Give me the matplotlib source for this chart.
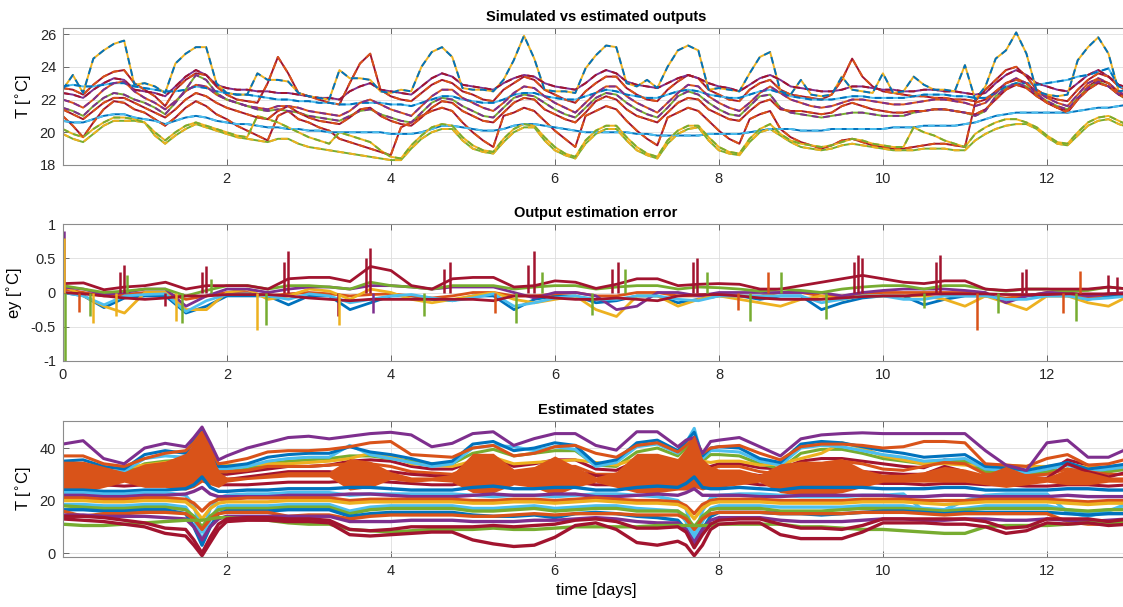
"""Observer results: simulated vs estimated outputs, output error, estimated states."""

import matplotlib

matplotlib.use("Agg")

import matplotlib.pyplot as plt
import numpy as np
from matplotlib.ticker import FormatStrFormatter

plt.rcParams["font.family"] = ["Liberation Sans", "DejaVu Sans"]
plt.rcParams["axes.unicode_minus"] = False

# MATLAB default colour order
COL = {
    "blue": "#0072BD", "orange": "#D95319", "yellow": "#EDB120", "purple": "#7E2F8E",
    "green": "#77AC30", "lblue": "#4DBEEE", "dred": "#A2142F",
}

# ---------------------------------------------------------------- top panel
# sampled every 3 h (0.125 day), t = 0 ... 13 days
TIME_TOP = np.arange(0, 13.0625, 0.125)

Y_HIGH = [
    22.6, 23.5, 22.4, 24.5, 25.0, 25.4, 25.6, 22.9,
    23.0, 22.8, 22.4, 24.2, 24.8, 25.2, 25.2, 23.0,
    22.4, 22.3, 22.3, 23.6, 23.2, 23.2, 23.1, 22.4,
    22.2, 22.1, 22.0, 23.8, 23.3, 23.3, 23.2, 22.5,
    22.4, 22.6, 22.5, 24.0, 24.9, 25.2, 24.6, 22.7,
    22.6, 22.6, 22.5, 23.2, 24.4, 25.9, 24.5, 22.6,
    22.5, 22.5, 22.4, 23.9, 24.7, 25.3, 25.2, 23.0,
    22.8, 23.2, 22.7, 24.0, 25.0, 25.3, 25.0, 22.6,
    22.7, 22.6, 22.5, 23.6, 24.6, 24.9, 22.5, 22.3,
    23.2, 22.3, 22.2, 22.3, 23.4, 22.6, 22.5, 22.4,
    23.6, 22.4, 22.5, 23.4, 22.9, 22.6, 22.6, 22.5,
    24.1, 22.0, 22.8, 24.5, 25.0, 26.1, 24.8, 22.5,
    22.3, 22.2, 22.3, 24.4, 25.2, 25.8, 24.8, 22.5,
    22.6]
Y_REDPEAK = [
    22.7, 22.6, 22.3, 22.9, 23.4, 23.7, 23.8, 23.0,
    22.6, 22.2, 21.6, 22.6, 23.2, 23.6, 23.5, 22.8,
    22.3, 22.0, 21.9, 21.8, 23.0, 24.6, 23.6, 22.4,
    22.2, 22.0, 21.8, 21.7, 23.0, 24.2, 24.8, 22.6,
    22.2, 22.0, 21.9, 22.4, 22.9, 23.2, 23.0, 22.5,
    22.3, 22.0, 21.9, 22.6, 23.0, 23.4, 23.2, 22.6,
    22.3, 22.0, 21.8, 22.5, 23.0, 23.4, 23.4, 22.7,
    22.3, 22.0, 21.9, 22.6, 23.1, 23.5, 23.3, 22.6,
    22.3, 22.0, 21.9, 22.6, 23.0, 23.2, 22.6, 22.3,
    22.2, 22.1, 22.0, 22.3, 23.2, 24.5, 23.4, 22.8,
    22.5, 22.4, 22.3, 22.2, 22.2, 22.1, 22.1, 22.0,
    22.0, 21.9, 22.6, 23.2, 23.8, 24.0, 23.4, 22.6,
    22.2, 22.0, 21.9, 22.6, 23.2, 23.6, 23.4, 22.8,
    22.5]
Y_PURPLE = [
    22.4, 22.3, 22.1, 22.6, 23.0, 23.3, 23.2, 22.6,
    22.5, 22.4, 22.2, 22.8, 23.4, 23.8, 23.5, 22.9,
    22.7, 22.6, 22.6, 22.5, 22.5, 22.4, 22.4, 22.3,
    22.2, 22.1, 22.1, 22.0, 22.5, 22.8, 23.0, 22.6,
    22.5, 22.4, 22.3, 22.8, 23.3, 23.6, 23.4, 22.9,
    22.8, 22.7, 22.6, 23.0, 23.3, 23.5, 23.4, 23.0,
    22.8, 22.7, 22.6, 23.0, 23.5, 23.8, 23.6, 23.1,
    22.9, 22.8, 22.7, 23.0, 23.3, 23.5, 23.3, 23.0,
    22.8, 22.7, 22.5, 22.9, 23.3, 23.5, 23.2, 22.8,
    22.7, 22.6, 22.5, 22.5, 22.6, 22.8, 22.8, 22.7,
    22.6, 22.6, 22.5, 22.5, 22.6, 22.6, 22.5, 22.5,
    22.4, 22.3, 22.4, 23.0, 23.5, 23.8, 23.5, 23.0,
    22.8, 22.6, 22.5, 23.0, 23.5, 23.8, 23.4, 22.9,
    22.7]
Y_LBLUE = [
    22.8, 22.9, 22.8, 22.8, 22.9, 23.0, 23.0, 22.8,
    22.7, 22.6, 22.5, 22.5, 22.6, 22.8, 22.7, 22.5,
    22.4, 22.3, 22.3, 22.2, 22.1, 22.0, 22.0, 21.9,
    21.9, 21.8, 21.8, 21.7, 21.7, 21.8, 21.8, 21.8,
    21.7, 21.7, 21.6, 21.8, 22.0, 22.2, 22.2, 22.0,
    21.9, 21.8, 21.8, 22.0, 22.3, 22.4, 22.4, 22.2,
    22.1, 22.0, 22.0, 22.2, 22.4, 22.6, 22.5, 22.3,
    22.2, 22.1, 22.1, 22.3, 22.5, 22.6, 22.5, 22.3,
    22.2, 22.1, 22.1, 22.3, 22.5, 22.6, 22.4, 22.2,
    22.1, 22.0, 22.0, 22.0, 22.1, 22.2, 22.2, 22.1,
    22.1, 22.1, 22.1, 22.2, 22.3, 22.3, 22.3, 22.2,
    22.2, 22.1, 22.1, 22.4, 22.8, 23.0, 23.0, 22.9,
    23.0, 23.1, 23.2, 23.4, 23.5, 23.7, 23.9, 22.8,
    22.6]
Y_ORANGE = [
    22.0, 21.8, 21.5, 22.0, 22.6, 23.0, 23.1, 22.5,
    22.1, 21.8, 21.4, 21.9, 22.5, 22.9, 22.8, 22.3,
    22.0, 21.8, 21.6, 21.5, 21.4, 21.6, 21.6, 21.5,
    21.3, 21.2, 21.1, 21.0, 21.3, 21.8, 22.0, 21.7,
    21.4, 21.2, 21.0, 21.6, 22.2, 22.6, 22.6, 22.1,
    21.8, 21.5, 21.3, 21.8, 22.4, 22.8, 22.7, 22.2,
    21.8, 21.5, 21.2, 21.8, 22.4, 22.8, 22.8, 22.2,
    21.8, 21.5, 21.2, 21.8, 22.4, 22.9, 22.8, 22.2,
    21.8, 21.5, 21.3, 21.8, 22.4, 22.8, 22.4, 22.0,
    21.8, 21.6, 21.5, 21.6, 21.8, 22.0, 22.0, 21.9,
    21.8, 21.7, 21.7, 21.8, 21.9, 22.0, 22.0, 21.9,
    21.8, 21.6, 21.8, 22.4, 23.0, 23.3, 23.0, 22.5,
    22.1, 21.8, 21.6, 22.3, 23.0, 23.3, 23.0, 22.5,
    22.1]
Y_REDLOW = [
    21.0, 20.4, 19.7, 20.6, 21.4, 21.9, 21.8, 21.4,
    21.2, 20.8, 20.4, 20.9, 21.5, 21.9, 21.6, 21.1,
    20.8, 20.4, 20.1, 19.8, 19.5, 21.0, 21.3, 20.8,
    20.6, 20.3, 20.1, 19.6, 19.4, 19.2, 19.0, 18.8,
    18.6, 20.3, 20.6, 21.0, 21.3, 21.5, 21.3, 20.6,
    20.0, 19.5, 19.1, 21.0, 21.2, 21.5, 21.3, 20.7,
    20.1, 19.6, 19.1, 21.0, 21.3, 21.6, 21.4, 20.7,
    20.1, 19.6, 19.2, 20.9, 21.2, 21.5, 21.3, 20.7,
    20.1, 19.6, 19.3, 20.8, 21.1, 21.3, 20.2, 19.7,
    19.4, 19.2, 19.0, 19.2, 19.5, 19.6, 19.4, 19.2,
    19.1, 19.0, 19.0, 19.1, 19.2, 19.3, 19.3, 19.2,
    19.1, 21.8, 22.0, 22.5, 23.0, 23.2, 23.0, 22.4,
    21.8, 21.5, 21.2, 22.0, 22.8, 23.2, 23.0, 22.4,
    22.0]
Y_BLUE = [
    20.7, 20.6, 20.6, 20.8, 21.0, 21.1, 21.1, 20.9,
    20.8, 20.7, 20.5, 20.7, 20.9, 21.0, 20.9, 20.7,
    20.6, 20.5, 20.5, 20.4, 20.3, 20.3, 20.2, 20.2,
    20.1, 20.1, 20.0, 20.0, 20.0, 20.0, 20.0, 20.0,
    19.9, 19.9, 19.9, 20.0, 20.2, 20.4, 20.4, 20.3,
    20.2, 20.1, 20.1, 20.2, 20.4, 20.5, 20.5, 20.4,
    20.3, 20.2, 20.1, 20.0, 20.0, 20.0, 20.0, 20.0,
    19.9, 19.9, 19.8, 19.8, 19.8, 19.8, 19.8, 19.9,
    19.9, 19.9, 19.9, 20.0, 20.1, 20.2, 20.2, 20.2,
    20.1, 20.1, 20.1, 20.2, 20.2, 20.2, 20.2, 20.2,
    20.2, 20.3, 20.3, 20.3, 20.4, 20.4, 20.4, 20.4,
    20.5, 20.6, 20.8, 21.0, 21.1, 21.2, 21.2, 21.2,
    21.2, 21.2, 21.2, 21.3, 21.4, 21.5, 21.5, 21.6,
    21.7]
Y_LOWEST = [
    19.9, 19.6, 19.4, 19.9, 20.4, 20.7, 20.7, 20.7,
    20.6, 19.8, 19.3, 19.8, 20.2, 20.5, 20.3, 20.1,
    19.9, 19.7, 19.6, 19.5, 19.4, 19.6, 19.6, 19.3,
    19.1, 19.0, 18.9, 18.8, 18.7, 18.6, 18.5, 18.4,
    18.3, 18.3, 19.0, 19.6, 20.0, 20.2, 20.2, 19.5,
    19.0, 18.8, 18.7, 19.4, 20.0, 20.3, 20.3, 19.5,
    18.9, 18.6, 18.4, 19.3, 19.9, 20.2, 20.2, 19.5,
    18.9, 18.6, 18.4, 19.3, 19.9, 20.2, 20.3, 19.5,
    18.9, 18.7, 18.6, 19.4, 20.0, 20.2, 19.8, 19.4,
    19.1, 19.0, 18.9, 19.0, 19.2, 19.3, 19.2, 19.1,
    19.0, 18.9, 18.9, 18.9, 19.0, 19.0, 19.0, 18.9,
    18.9, 19.5, 19.9, 20.2, 20.4, 20.5, 20.5, 20.2,
    19.7, 19.3, 19.2, 19.8, 20.4, 20.7, 20.8, 20.5,
    20.3]
Y_YELLOW = [
    20.2, 19.9, 19.7, 20.2, 20.6, 20.9, 20.9, 20.8,
    20.6, 20.0, 19.5, 20.0, 20.4, 20.6, 20.4, 20.2,
    20.0, 19.8, 19.7, 21.0, 20.8, 20.6, 20.3, 20.0,
    19.7, 19.5, 19.3, 20.0, 19.8, 19.6, 19.4, 18.9,
    18.5, 18.4, 19.2, 19.8, 20.3, 20.5, 20.4, 19.7,
    19.2, 18.9, 18.8, 19.6, 20.2, 20.5, 20.4, 19.7,
    19.1, 18.7, 18.5, 19.5, 20.1, 20.4, 20.4, 19.7,
    19.1, 18.7, 18.5, 19.5, 20.1, 20.4, 20.4, 19.7,
    19.1, 18.8, 18.7, 19.6, 20.2, 20.5, 19.9, 19.5,
    19.3, 19.2, 19.1, 19.2, 19.4, 19.6, 19.5, 19.3,
    19.2, 19.1, 19.1, 20.3, 20.0, 19.8, 19.5, 19.3,
    19.1, 19.9, 20.3, 20.6, 20.8, 20.8, 20.6, 20.3,
    19.8, 19.4, 19.3, 20.0, 20.6, 20.9, 21.0, 20.7,
    20.4]
Y_GREEN = [
    21.5, 21.3, 21.0, 21.6, 22.1, 22.4, 22.3, 22.0,
    21.8, 21.5, 21.1, 21.8, 22.6, 23.5, 23.2, 22.4,
    22.0, 21.8, 21.6, 21.4, 21.3, 21.4, 21.3, 21.2,
    21.0, 20.9, 20.8, 20.7, 21.0, 21.3, 21.4, 21.1,
    20.9, 20.7, 20.6, 21.2, 21.8, 22.1, 22.0, 21.6,
    21.3, 21.0, 20.9, 21.5, 22.1, 22.3, 22.2, 21.8,
    21.4, 21.1, 20.9, 21.5, 22.1, 22.4, 22.3, 21.8,
    21.4, 21.1, 20.9, 21.5, 22.2, 22.5, 22.3, 21.8,
    21.4, 21.1, 21.0, 21.6, 22.2, 22.3, 21.5, 21.2,
    21.1, 21.0, 20.9, 21.0, 21.1, 21.2, 21.2, 21.1,
    21.0, 21.0, 21.0, 21.2, 21.3, 21.4, 21.4, 21.3,
    21.2, 21.0, 21.3, 22.2, 22.7, 23.0, 22.8, 22.3,
    21.9, 21.6, 21.4, 22.1, 22.7, 23.1, 22.8, 22.3,
    21.9]
Y_RED = [
    21.4, 21.1, 20.8, 21.3, 21.8, 22.1, 22.1, 21.8,
    21.5, 21.2, 20.9, 21.4, 22.0, 22.4, 22.2, 21.8,
    21.5, 21.3, 21.1, 20.9, 20.8, 21.3, 21.6, 21.2,
    20.9, 20.7, 20.6, 20.5, 20.9, 21.4, 21.5, 21.0,
    20.7, 20.5, 20.4, 20.9, 21.5, 21.9, 21.8, 21.3,
    21.0, 20.7, 20.6, 21.2, 21.8, 22.1, 22.0, 21.4,
    21.1, 20.8, 20.6, 21.2, 21.9, 22.2, 22.0, 21.4,
    21.0, 20.8, 20.6, 21.2, 21.8, 22.1, 22.0, 21.4,
    21.1, 20.8, 20.7, 21.3, 21.8, 22.0, 21.4, 21.3,
    21.3, 21.2, 21.1, 21.2, 21.6, 21.8, 21.6, 21.4,
    21.3, 21.2, 21.2, 21.3, 21.3, 21.4, 21.4, 21.3,
    21.2, 21.1, 21.4, 22.0, 22.6, 22.9, 22.7, 22.2,
    21.8, 21.5, 21.3, 22.0, 22.6, 23.0, 22.8, 22.3,
    22.0]

# (series, simulated colour, estimate colour)
TOP_SERIES = [
    (Y_REDPEAK, "dred", "orange"), (Y_PURPLE, "purple", "dred"),
    (Y_LBLUE, "lblue", "blue"), (Y_ORANGE, "orange", "purple"),
    (Y_REDLOW, "dred", "orange"), (Y_BLUE, "blue", "lblue"),
    (Y_LOWEST, "green", "yellow"), (Y_YELLOW, "yellow", "green"),
    (Y_GREEN, "green", "purple"), (Y_RED, "dred", "orange"),
    (Y_HIGH, "yellow", "blue"),
]

# ---------------------------------------------------------------- middle panel
TIME_MID = np.arange(0, 13.125, 0.25)

E_BLUE = [0.0, -0.05, -0.22, -0.08, -0.05, -0.05, -0.3, -0.2, -0.05, -0.05, -0.05, -0.18,
          -0.05, -0.05, -0.25, -0.15, -0.05, -0.05, -0.1, -0.12, -0.05, -0.05, -0.25, -0.1,
          -0.05, -0.05, -0.15, -0.12, -0.05, -0.05, -0.15, -0.1, -0.05, -0.05, -0.1, -0.05,
          -0.05, -0.25, -0.15, -0.08, -0.05, -0.05, -0.18, -0.1, -0.05, -0.05, -0.1, -0.05,
          -0.05, -0.05, -0.1, -0.05, -0.03]
E_ORANGE = [0.05, 0.0, -0.05, -0.03, 0.0, 0.0, -0.1, -0.05, 0.0, 0.0, -0.05, -0.02,
            0.0, -0.02, -0.05, -0.03, -0.02, -0.05, -0.08, -0.05, 0.0, 0.0, -0.05, -0.05,
            -0.02, 0.0, -0.05, -0.05, 0.0, 0.0, -0.05, -0.05, -0.03, -0.05, -0.05, 0.0,
            0.0, -0.05, -0.05, -0.02, 0.0, 0.0, 0.0, 0.0, 0.0, -0.05, -0.08, -0.05,
            0.0, -0.03, -0.08, -0.02, 0.0]
E_YELLOW = [0.1, -0.05, -0.2, -0.3, 0.0, 0.0, -0.25, -0.25, 0.0, 0.05, -0.1, -0.05,
            0.05, 0.02, -0.1, 0.05, 0.0, -0.1, -0.15, -0.1, -0.05, 0.0, -0.1, -0.15,
            -0.1, -0.05, -0.25, -0.35, -0.05, -0.05, -0.2, -0.1, -0.05, -0.1, -0.15, -0.2,
            -0.1, -0.05, -0.1, -0.05, -0.05, -0.05, -0.05, -0.1, -0.2, -0.05, -0.15, -0.25,
            -0.05, -0.05, -0.15, -0.2, -0.05]
E_PURPLE = [0.08, 0.05, -0.03, 0.0, 0.05, 0.05, -0.2, -0.05, 0.05, 0.05, 0.0, 0.05,
            0.08, 0.08, 0.05, 0.1, 0.1, 0.08, 0.05, 0.08, 0.08, 0.08, 0.0, -0.08,
            0.0, 0.0, -0.05, -0.25, -0.2, 0.0, 0.0, -0.05, 0.0, 0.0, 0.0, 0.0,
            0.0, 0.0, -0.05, 0.0, 0.03, 0.05, 0.05, 0.05, 0.03, 0.0, -0.15, -0.05,
            0.0, 0.0, -0.05, -0.02, 0.0]
E_GREEN = [0.1, 0.05, 0.0, 0.02, 0.05, 0.05, -0.05, 0.03, 0.1, 0.1, 0.05, 0.1,
           0.1, 0.08, 0.05, 0.15, 0.1, 0.08, 0.05, 0.1, 0.1, 0.1, 0.05, 0.08,
           0.1, 0.1, 0.05, 0.08, 0.1, 0.1, 0.05, 0.08, 0.07, 0.05, 0.02, 0.05,
           0.03, 0.0, 0.05, 0.08, 0.1, 0.1, 0.05, 0.1, 0.1, 0.05, 0.02, 0.05,
           0.05, 0.02, 0.03, 0.08, 0.05]
E_LBLUE = [0.0, -0.05, -0.18, -0.05, -0.03, -0.02, -0.28, -0.12, -0.03, -0.02, -0.05, -0.1,
           -0.02, -0.05, -0.15, -0.1, -0.05, -0.03, -0.08, -0.12, -0.08, -0.02, -0.2, -0.15,
           -0.08, -0.05, -0.1, -0.1, -0.05, -0.05, -0.1, -0.12, -0.05, -0.05, -0.05, -0.05,
           -0.05, -0.15, -0.1, -0.05, -0.05, -0.1, -0.1, -0.05, -0.05, -0.05, -0.1, -0.1,
           -0.05, -0.05, -0.1, -0.08, -0.05]
E_DRED_LO = [0.0, -0.02, -0.05, -0.08, -0.1, -0.08, -0.05, -0.05, -0.03, -0.03, -0.03, -0.05,
             -0.08, -0.1, -0.12, -0.1, -0.1, -0.1, -0.1, -0.1, -0.1, -0.12, -0.05, -0.05,
             -0.08, -0.1, -0.1, -0.08, -0.1, -0.12, -0.05, -0.03, -0.03, -0.05, -0.08, -0.1,
             -0.1, -0.1, -0.08, -0.06, -0.05, -0.05, -0.03, -0.02, -0.02, -0.02, -0.03, -0.03,
             -0.03, -0.02, -0.02, -0.02, -0.02]
E_DRED_HI = [0.13, 0.14, 0.04, 0.08, 0.1, 0.15, 0.05, 0.1, 0.1, 0.1, 0.05, 0.2,
             0.22, 0.22, 0.16, 0.38, 0.32, 0.1, 0.05, 0.2, 0.22, 0.22, 0.08, 0.1,
             0.17, 0.15, 0.06, 0.12, 0.2, 0.2, 0.1, 0.12, 0.13, 0.12, 0.05, 0.05,
             0.1, 0.15, 0.2, 0.25, 0.2, 0.15, 0.13, 0.17, 0.17, 0.05, 0.03, 0.05,
             0.05, 0.05, 0.05, 0.08, 0.05]
MID_SERIES = [
    (E_BLUE, "blue"), (E_ORANGE, "orange"), (E_YELLOW, "yellow"), (E_PURPLE, "purple"),
    (E_GREEN, "green"), (E_LBLUE, "lblue"), (E_DRED_LO, "dred"), (E_DRED_HI, "dred"),
]

# short spikes in the error traces
SPIKE_T = [0.01, 0.015, 0.02, 0.2, 0.33, 0.37, 0.65, 0.7, 0.75, 0.78, 1.24, 1.38, 1.45,
           1.7, 1.75, 1.8, 2.37, 2.47, 2.7, 2.75, 3.35, 3.36, 3.7, 3.75, 3.78, 4.4,
           4.65, 4.72, 5.27, 5.53, 5.67, 5.74, 5.84, 6.45, 6.7, 6.77, 6.85, 7.68, 7.73,
           7.85, 8.23, 8.38, 8.6, 8.76, 9.3, 9.65, 9.7, 9.75, 10.5, 10.65, 10.7,
           11.15, 11.4, 11.7, 11.75, 12.2, 12.35, 12.4, 12.75, 12.85]
SPIKE_V = [0.9, 0.8, -1.0, -0.28, -0.35, -0.45, -0.35, 0.3, 0.4, 0.25, -0.2, -0.42, -0.45,
           0.3, 0.38, 0.2, -0.55, -0.47, 0.45, 0.6, -0.35, -0.47, 0.5, 0.65, -0.3, -0.35,
           0.35, 0.45, -0.3, -0.45, 0.4, 0.6, 0.3, -0.33, 0.35, 0.45, 0.35, 0.45, 0.5,
           0.3, -0.25, -0.42, 0.3, 0.3, -0.38, 0.45, 0.55, 0.5, -0.22, 0.45, 0.55,
           -0.55, -0.3, 0.3, 0.35, -0.3, -0.42, 0.32, 0.25, 0.22]
SPIKE_C = ["purple", "yellow", "green", "orange", "green", "yellow", "yellow", "dred", "dred",
           "green", "dred", "yellow", "green", "dred", "dred", "green", "yellow", "green",
           "dred", "dred", "dred", "yellow", "dred", "dred", "purple", "green", "dred",
           "dred", "orange", "green", "dred", "dred", "green", "green", "dred", "dred",
           "green", "dred", "dred", "green", "orange", "green", "orange", "green", "green",
           "dred", "dred", "dred", "green", "dred", "dred", "orange", "green", "dred",
           "dred", "orange", "green", "orange", "dred", "dred"]

# ---------------------------------------------------------------- bottom panel
TIME_BOT = [0, 0.25, 0.5, 0.75, 1.0, 1.25, 1.5,
            1.6, 1.7, 1.8, 1.9,
            2.0, 2.25, 2.5, 2.75, 3.0, 3.25, 3.5, 3.75,
            4.0, 4.25, 4.5, 4.75, 5.0, 5.25, 5.5, 5.75,
            6.0, 6.25, 6.5, 6.75, 7.0, 7.25, 7.5,
            7.6, 7.7, 7.8, 7.9,
            8.0, 8.25, 8.5, 8.75, 9.0, 9.25, 9.5, 9.75,
            10.0, 10.25, 10.5, 10.75, 11.0, 11.25, 11.5, 11.75,
            12.0, 12.25, 12.5, 12.75, 13.0]

X_PURPLE_TOP = [41.5, 42.8, 36.0, 34.0, 40.0, 41.8, 40.5,
                44.0, 48.0, 42.0, 35.5,
                37.0, 40.0, 42.0, 44.0, 44.5, 43.5, 44.5, 45.5,
                46.0, 45.0, 40.5, 41.8, 45.5, 46.2, 41.0, 43.6,
                45.5, 45.5, 41.0, 39.2, 46.2, 46.2, 40.5,
                43.0, 44.0, 38.0, 42.5,
                43.0, 44.0, 40.5, 37.0, 43.5, 45.0, 45.5, 45.8,
                45.5, 45.5, 45.5, 45.5, 45.5, 39.0, 33.5, 31.5,
                42.0, 43.0, 36.5, 36.5, 40.0]
X_ORANGE_TOP = [37.0, 37.0, 34.0, 33.0, 36.0, 38.0, 39.0,
                42.0, 46.0, 40.0, 34.0,
                34.5, 36.0, 38.5, 39.0, 39.0, 39.5, 40.5, 42.0,
                42.5, 37.5, 37.0, 36.5, 40.0, 41.0, 37.0, 38.0,
                40.5, 41.0, 38.0, 36.5, 41.0, 42.0, 38.5,
                41.0, 44.0, 38.0, 40.0,
                40.5, 41.0, 38.0, 35.5, 40.5, 41.5, 41.5, 41.0,
                40.0, 40.5, 42.5, 42.5, 42.0, 34.0, 33.5, 33.0,
                36.0, 37.5, 33.5, 34.0, 36.0]
X_BLUE_TOP = [35.0, 35.5, 33.0, 32.0, 37.5, 39.0, 38.0,
              43.0, 47.0, 39.0, 33.0,
              33.0, 34.0, 36.5, 37.5, 38.0, 38.0, 40.5, 38.5,
              37.5, 36.0, 34.0, 35.0, 41.5, 42.5, 39.0, 40.0,
              42.0, 41.0, 34.0, 35.5, 42.0, 43.0, 39.0,
              42.5, 46.0, 37.0, 40.0,
              40.5, 40.0, 36.0, 34.5, 41.5, 42.5, 42.0, 40.5,
              39.0, 38.0, 36.5, 37.0, 37.5, 33.0, 32.5, 31.5,
              33.0, 34.5, 32.0, 33.0, 34.0]
X_LBLUE_TOP = [33.0, 33.5, 31.5, 31.0, 36.0, 37.0, 36.5,
               42.0, 46.5, 38.0, 32.0,
               32.0, 33.0, 35.0, 36.0, 36.5, 36.5, 41.0, 37.5,
               36.0, 34.5, 33.0, 34.0, 40.0, 41.0, 40.5, 39.0,
               40.5, 39.5, 33.0, 34.5, 40.5, 41.5, 38.0,
               42.0, 47.5, 36.0, 39.0,
               39.0, 38.5, 35.0, 33.5, 40.0, 41.0, 40.5, 39.0,
               37.5, 36.5, 35.0, 35.5, 36.0, 32.0, 31.5, 30.5,
               32.0, 33.5, 31.0, 32.0, 33.0]
X_GREEN_TOP = [33, 33, 31, 30.5, 34, 35, 35.5,
               40, 44, 36, 31,
               31, 32, 34, 35, 35.5, 36, 37, 37,
               36, 35, 34, 34, 38, 39.5, 37, 38,
               39, 39, 33.5, 33, 38.5, 40, 37,
               40, 44, 35, 37.5,
               37.5, 37, 34, 32, 38, 39.5, 39.5, 38,
               36, 35, 34, 34.5, 35, 31, 30.5, 30,
               31, 32, 30, 31, 32]
X_YELLOW_TOP = [34.5, 34.0, 32.5, 32.5, 33.5, 34.5, 35.0,
                40.0, 44.0, 37.0, 33.5,
                33.5, 33.5, 34.0, 34.0, 34.5, 35.0, 36.0, 38.0,
                37.0, 34.0, 33.5, 33.0, 35.0, 36.5, 34.0, 34.5,
                35.0, 35.5, 34.5, 33.5, 36.0, 37.0, 35.0,
                38.0, 42.0, 35.0, 34.5,
                35.0, 35.0, 33.5, 34.0, 36.0, 38.0, 42.0, 40.0,
                37.0, 35.5, 34.0, 34.0, 33.5, 33.5, 33.5, 33.0,
                33.0, 34.0, 32.5, 32.5, 33.0]
X_DRED_TOP = [32, 32, 31, 30, 32, 33, 33.5,
              37, 41, 34, 30,
              30, 31, 32, 33, 33, 33.5, 35, 35.5,
              35, 33, 32, 32, 35, 36, 33, 34,
              35.5, 35.5, 32, 31.5, 35, 36, 34,
              37, 41, 33, 33,
              34, 34, 32.5, 32, 35, 36, 36, 35,
              34, 33, 32.5, 35.5, 35, 31, 31.5, 30.5,
              30.5, 35.5, 33.5, 31, 33]
# envelope of the densely oscillating orange states
ORANGE_HI = [35, 35, 33, 31, 34, 35, 38,
             42, 46, 40, 31,
             29, 29, 30, 31, 31, 31, 36, 35,
             31, 29, 29, 30, 38, 38, 32, 33,
             37, 33, 29, 31, 38, 38, 36,
             40, 45, 36, 33,
             32, 32, 30, 34, 35, 35, 36, 32,
             30, 30, 31, 33, 32, 30, 33, 30,
             29, 32, 31, 29, 29]
ORANGE_LO = [23, 23, 25, 27, 25, 25, 24,
             25, 27, 26, 25,
             27, 28, 28.5, 29, 29, 29, 24, 25,
             28, 27, 27.5, 27, 23, 23, 26, 25,
             22, 25, 27, 25, 23, 23, 24,
             24, 25, 24, 25,
             25, 26, 27, 23, 22, 22, 23, 25,
             27, 27, 27, 27, 27, 26, 25, 26,
             27, 26, 26, 27, 27]
X_ORANGE_MID = [31, 31, 30, 30, 31, 31.5, 33,
                38, 42, 36, 31,
                31, 31.5, 33, 33, 33, 33.5, 34, 34,
                33, 31, 30.5, 30, 33, 34, 31, 31.5,
                33, 33, 30, 30, 33, 34, 32,
                35, 40, 33, 32,
                33, 33, 31, 30, 33, 34, 35, 34,
                32, 31.5, 33, 34.5, 34, 30, 30, 29.5,
                30, 32, 31, 30, 30]
X_DRED_UP = [29, 29, 28.5, 28, 29, 29.5, 30,
             33, 36, 31, 28,
             28, 29, 30, 31, 31, 31, 30, 30.5,
             31, 30, 29.5, 29, 30, 31, 30, 30,
             30.5, 31, 29.5, 29, 30, 31, 30,
             31, 34, 30, 30,
             30, 30.5, 29.5, 29, 30, 30.5, 31, 31,
             30.5, 30, 30, 33, 31, 28, 30, 28.5,
             28.5, 34, 31, 29, 31]
X_BLUE_MID = [24, 24, 23.5, 23.5, 24, 24, 24.5,
              26, 29, 25, 23.5,
              23.5, 24, 24, 24.5, 24.5, 24.5, 25, 25,
              24.5, 24, 24, 24, 25, 25.5, 24.5, 24.5,
              25, 25, 24, 24, 25, 25.5, 25,
              26.5, 29, 25, 24.5,
              24.5, 25, 24.5, 24, 25, 25, 25, 25,
              24.5, 24.5, 24.5, 25, 25, 24, 24, 24,
              24, 24.5, 24.5, 24, 24]
X_PURPLE_MID = [22, 22, 21.5, 21.5, 22, 22, 22.5,
                23.5, 25, 22.5, 21.5,
                21.5, 21.5, 21.5, 22, 22, 22, 22.5, 22.5,
                22, 21.5, 21.5, 21.5, 22, 22.5, 22, 22,
                22.5, 22.5, 21.5, 21.5, 22, 22.5, 22,
                23, 24.5, 22, 22,
                22, 22, 21.5, 21.5, 22, 22, 22, 22,
                22, 21.5, 21.5, 22, 22, 21.5, 21.5, 21.5,
                21.5, 22, 21.5, 21.5, 21.5]
X_DRED_MID = [26, 26.5, 26, 25.5, 26, 26.5, 27,
              30, 33, 28, 26,
              26, 26, 26.5, 27, 27, 27, 27.5, 27.5,
              27, 26.5, 26, 26, 27, 27.5, 26.5, 26.5,
              27, 27, 26, 26, 27, 27.5, 27,
              29, 32, 27, 26.5,
              26.5, 27, 26, 26, 27, 27, 27, 27,
              26.5, 26.5, 26, 26.5, 26.5, 26, 26, 25.5,
              25.5, 26, 26, 25.5, 26]
X_LBLUE_MID = [23, 23, 22.5, 22.5, 23, 23, 22,
               18, 8, 17, 21,
               22, 22.5, 22.5, 23, 23, 23, 22, 22.5,
               22.5, 22.5, 22.5, 22.5, 22, 21.5, 22, 22,
               21.5, 22, 22.5, 22.5, 22, 21.5, 20,
               17, 6, 16, 21,
               22, 22.5, 22.5, 22, 21.5, 21.5, 21.5, 22,
               22, 22.5, 16, 16.5, 20, 22, 22.5, 22.5,
               22.5, 15.5, 14, 16, 19]
X_ORANGE_LOWMID = [21, 21, 20.5, 20.5, 21, 21, 20.5,
                   19, 16, 19, 20.5,
                   20.5, 21, 21, 21, 21, 21, 20, 20.5,
                   20.5, 20.5, 20.5, 20.5, 20, 20, 20.5, 20.5,
                   20, 20.5, 21, 20.5, 20, 20, 19.5,
                   18, 15, 18.5, 20,
                   20.5, 20.5, 20.5, 20, 20, 20, 20, 20.5,
                   20.5, 20.5, 20, 20, 20, 20.5, 20.5, 20.5,
                   20.5, 20, 19.5, 20, 20]
X_YELLOW_MID = [20, 20, 19.5, 19.5, 20, 20, 19.5,
                17, 13, 17, 19,
                19.5, 19.5, 19.5, 20, 20, 20, 19, 19.5,
                19.5, 19.5, 19.5, 19.5, 19, 19, 19.5, 19.5,
                19, 19.5, 20, 19.5, 19, 19, 18.5,
                17, 13, 17, 19,
                19.5, 19.5, 19.5, 19, 19, 19, 19, 19.5,
                19.5, 19.5, 19, 18.5, 19, 19.5, 19.5, 19.5,
                19.5, 19, 18.5, 19, 19]
X_LBLUE_LOW = [18.5, 18.5, 18, 18, 18.5, 18.5, 17.5,
               13, 5, 13, 17.5,
               18, 18, 18, 18.5, 18.5, 18.5, 16, 17.5,
               18, 18, 18, 18, 17, 17, 17.5, 18,
               17, 17.5, 18, 18, 17, 16.5, 16,
               12, 4, 12, 17,
               18, 18, 18, 17.5, 17.5, 17.5, 17.5, 18,
               18, 18, 17, 16.5, 17, 18, 18, 18,
               18, 16.5, 15.5, 16.5, 17]
X_GREEN_MID = [18, 17.5, 17, 17, 17.5, 17.5, 16.5,
               14, 10, 14, 16.5,
               17, 17, 17, 17.5, 17.5, 17.5, 15, 16.5,
               17, 17, 17, 17, 16, 16, 16.5, 17,
               16, 16.5, 17, 17, 16, 16, 16,
               14, 10, 14, 16.5,
               17, 17, 17, 16, 16, 16, 16.5, 17,
               17, 17, 16.5, 16, 16.5, 17, 17, 17,
               17, 16.5, 16, 16.5, 16.5]
X_BLUE_LOW = [16.5, 16.5, 16, 16, 16.5, 16.5, 15,
              10, 3, 10, 15,
              16, 16, 16, 16.5, 16.5, 16.5, 14, 15,
              15.5, 15.5, 15.5, 15.5, 14.5, 14, 14, 14.5,
              13.5, 15, 15.5, 15, 14, 13.5, 12.5,
              9, 3, 9, 14,
              15.5, 15.5, 15.5, 15, 15, 14.5, 15, 15.5,
              16, 16, 15.5, 15, 15.5, 15.5, 15.5, 15.5,
              15.5, 15, 14.5, 15, 15]
X_ORANGE_LOW = [16, 14, 15, 15, 15.5, 15.5, 15,
                13, 9, 13, 15,
                15.5, 15.5, 15.5, 14, 14.5, 14.5, 13, 14,
                14.5, 14.5, 14.5, 14.5, 14, 14, 14.5, 15,
                14.5, 15, 15, 15, 14.5, 14.5, 14.5,
                13, 9, 13, 15,
                15.5, 15.5, 15.5, 15, 15, 15, 15, 15.5,
                15.5, 15.5, 15, 14.5, 15, 15, 15, 15,
                15, 12, 11, 11, 13]
X_PURPLE_LOW = [14.5, 14.5, 14, 14, 14, 13.5, 13,
                10, 5, 10, 13,
                14, 14, 14, 14, 14, 14, 12, 12,
                12, 12.5, 12.5, 12.5, 12, 12, 12, 12.5,
                12.5, 13, 13.5, 13, 12, 11.5, 11.5,
                9, 4, 9, 12.5,
                13.5, 13.5, 13.5, 12.5, 12, 12, 12, 12.5,
                13, 13, 12.5, 12.5, 13, 13, 12.5, 12.5,
                13, 12.5, 12, 12.5, 13]
X_DRED_LOW = [14, 14, 13.5, 12.5, 11.5, 9.5, 9,
              5, 0, 6, 11,
              13, 13.5, 13.5, 13, 13, 12.5, 9, 8.5,
              9, 10, 10, 10, 10, 10.5, 10, 10.5,
              11, 12.5, 13, 12, 9.5, 9.5, 10,
              8, 2, 7, 11,
              12.5, 13, 13, 11, 9.5, 9.5, 9, 10.5,
              13, 13, 13, 13, 13, 12, 9.5, 10,
              13, 13, 13, 12, 13]
X_DRED_LOWEST = [13, 12.5, 12, 11, 10, 7.5, 6.5,
                 3, -1, 4, 9,
                 12, 12.5, 12.5, 12, 12, 11.5, 7, 6.5,
                 7, 7.5, 8, 8, 5, 3.5, 2.5, 3,
                 6, 10.5, 11.5, 9, 4, 3, 4.5,
                 3, -1, 3, 9,
                 11, 11.5, 11.5, 7, 5.5, 5.5, 5.5, 8,
                 11.5, 11.5, 11.5, 11, 11, 10, 7.5, 8.5,
                 11.5, 11, 11.5, 10.5, 11]
X_GREEN_LOWEST = [11, 10.5, 10.5, 11, 11.5, 12, 12.5,
                  12.5, 12.5, 13, 13.5,
                  13.5, 13, 12.5, 11.5, 11, 11, 9, 8.5,
                  8, 8.5, 9, 9, 9, 9.5, 9, 9,
                  9.5, 10, 10, 10, 10, 10.5, 10.5,
                  10.5, 10.5, 10.5, 10.5,
                  11, 11, 11, 11, 10, 10, 9.5, 9,
                  9, 8.5, 8, 7.5, 7.5, 10, 10.5, 10.5,
                  10.5, 11, 11.5, 11.5, 12]

BOT_UPPER = [
    (X_DRED_TOP, "dred"), (X_GREEN_TOP, "green"), (X_YELLOW_TOP, "yellow"),
    (X_LBLUE_TOP, "lblue"), (X_BLUE_TOP, "blue"), (X_ORANGE_TOP, "orange"),
    (X_PURPLE_TOP, "purple"), (X_ORANGE_MID, "orange"), (X_DRED_UP, "dred"),
    (X_DRED_MID, "dred"),
]
BOT_LOWER = [
    (X_BLUE_MID, "blue"), (X_LBLUE_MID, "lblue"), (X_PURPLE_MID, "purple"),
    (X_ORANGE_LOWMID, "orange"), (X_YELLOW_MID, "yellow"), (X_LBLUE_LOW, "lblue"),
    (X_GREEN_MID, "green"), (X_BLUE_LOW, "blue"), (X_ORANGE_LOW, "orange"),
    (X_PURPLE_LOW, "purple"), (X_GREEN_LOWEST, "green"),
    (X_DRED_LOW, "dred"), (X_DRED_LOWEST, "dred"),
]


def style_axes(ax):
    """MATLAB-like boxed axes with light grid and inward ticks."""
    ax.grid(True, color="#dedede", lw=0.6)
    ax.set_axisbelow(True)
    for spine in ax.spines.values():
        spine.set_color("#8c8c8c")
        spine.set_linewidth(0.8)
    ax.tick_params(direction="in", length=4, width=0.6, top=True, right=True,
                   color="#555555", labelcolor="#262626", labelsize=10.5, pad=5)
    ax.set_xticks([0, 2, 4, 6, 8, 10, 12])


def plot_outputs(ax):
    for vals, sim_c, _ in TOP_SERIES:
        ax.plot(TIME_TOP, vals, color=COL[sim_c], lw=1.4)
    for vals, _, est_c in TOP_SERIES:
        ax.plot(TIME_TOP, vals, color=COL[est_c], lw=1.4, ls=(0, (3.5, 2.5)))
    ax.set_xlim(0.005, 13)
    ax.set_ylim(18, 26.37)
    ax.set_yticks([18, 20, 22, 24, 26])
    ax.set_ylabel(r"T [$^{\circ}$C]", fontsize=12)
    ax.set_title("Simulated vs estimated outputs", fontsize=10.5, fontweight="bold", pad=5)


def plot_errors(ax):
    for vals, c in MID_SERIES:
        ax.plot(TIME_MID, vals, color=COL[c], lw=2.0)
    ax.vlines(SPIKE_T, 0, SPIKE_V, colors=[COL[c] for c in SPIKE_C], lw=1.8)
    ax.set_xlim(0, 13)
    ax.set_ylim(-1, 1)
    ax.set_yticks([-1, -0.5, 0, 0.5, 1])
    ax.yaxis.set_major_formatter(FormatStrFormatter("%g"))
    ax.set_ylabel(r"ey [$^{\circ}$C]", fontsize=12)
    ax.set_title("Output estimation error", fontsize=10.5, fontweight="bold", pad=5)


def plot_states(ax):
    for vals, c in BOT_UPPER:
        ax.plot(TIME_BOT, vals, color=COL[c], lw=2.2)
    # dense orange oscillations sit on top of the upper-band states
    ax.fill_between(TIME_BOT, ORANGE_LO, ORANGE_HI, color=COL["orange"], lw=0, zorder=2)
    for vals, c in BOT_LOWER:
        ax.plot(TIME_BOT, vals, color=COL[c], lw=2.4)
    ax.set_xlim(0.005, 13)
    ax.set_ylim(-1.5, 50.3)
    ax.set_yticks([0, 20, 40])
    ax.set_ylabel(r"T [$^{\circ}$C]", fontsize=12)
    ax.set_xlabel("time [days]", fontsize=12)
    ax.set_title("Estimated states", fontsize=10.5, fontweight="bold", pad=5)


def main():
    fig = plt.figure(figsize=(11.23, 6.07), dpi=100)
    left, width = 63 / 1123, (1129 - 63) / 1123
    ax_top = fig.add_axes([left, 1 - 165 / 607, width, 137 / 607])
    ax_mid = fig.add_axes([left, 1 - 361 / 607, width, 137 / 607])
    ax_bot = fig.add_axes([left, 1 - 557 / 607, width, 136 / 607])
    for ax in (ax_top, ax_mid, ax_bot):
        style_axes(ax)
    plot_outputs(ax_top)
    plot_errors(ax_mid)
    plot_states(ax_bot)
    fig.savefig("out.png", dpi=100)
    plt.close(fig)


if __name__ == "__main__":
    main()
